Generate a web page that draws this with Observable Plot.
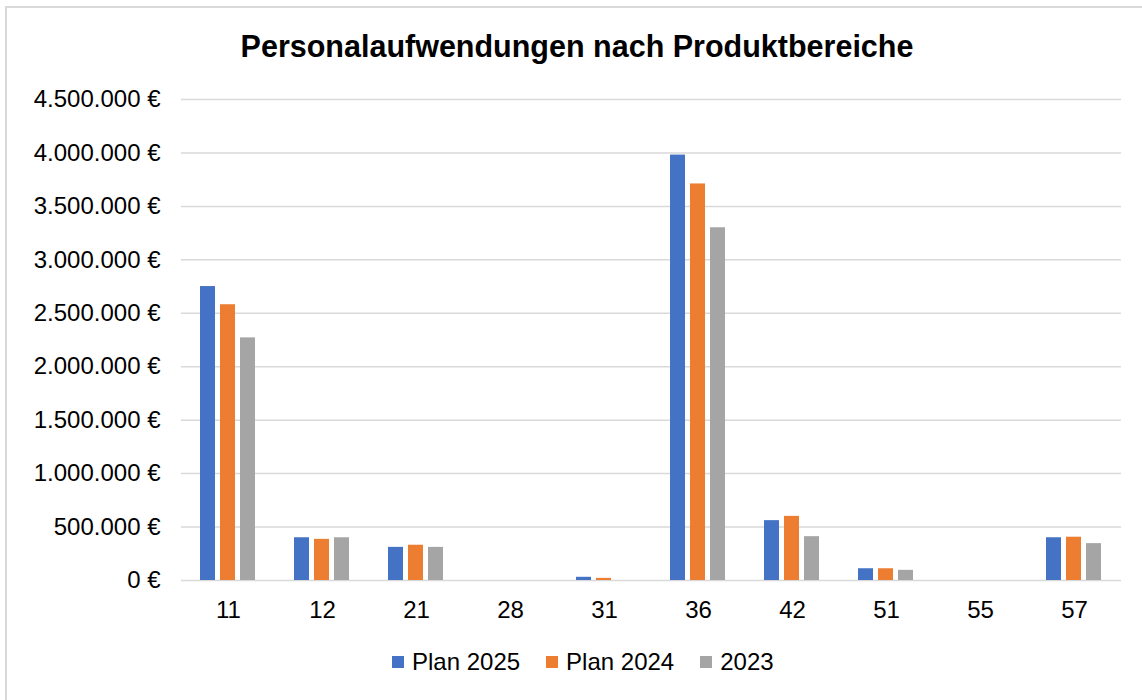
<!DOCTYPE html>
<html><head><meta charset="utf-8">
<script src="https://cdn.jsdelivr.net/npm/d3@7"></script>
<script src="https://cdn.jsdelivr.net/npm/@observablehq/plot@0.6"></script>
<style>
body{margin:0;background:#fff;font-family:"Liberation Sans",Arial,sans-serif;overflow:hidden;}
#frame{position:absolute;left:5px;top:6px;width:1142px;height:700px;border-left:2px solid #d9d9d9;border-top:2px solid #d9d9d9;}
#title{position:absolute;left:6px;top:29px;width:1142px;text-align:center;font-weight:bold;font-size:30.5px;color:#000;}
#chart{position:absolute;left:0;top:80px;}
#legend{position:absolute;top:648px;left:392px;display:flex;align-items:center;font-size:24px;color:#000;}
#legend .item{display:flex;align-items:center;margin-right:26px;}
#legend .sw{width:12px;height:12px;margin-right:8px;}
</style>
</head><body>
<div id="frame"></div>
<div id="title">Personalaufwendungen nach Produktbereiche</div>
<div id="chart"></div>
<div id="legend"></div>
<script>
const categories = ["11","12","21","28","31","36","42","51","55","57"];
const seriesNames = ["Plan 2025","Plan 2024","2023"];
const seriesColors = ["#4472C4","#ED7D31","#A5A5A5"];
const plan2025 = [2750000, 400000, 310000, 0, 30000, 3980000, 560000, 110000, 0, 400000];
const plan2024 = [2580000, 385000, 330000, 0, 20000, 3710000, 600000, 110000, 0, 405000];
const year2023 = [2270000, 400000, 310000, 0, 0, 3300000, 410000, 95000, 0, 345000];
const yTicks = [0, 500000, 1000000, 1500000, 2000000, 2500000, 3000000, 3500000, 4000000, 4500000];

const seriesValues = [plan2025, plan2024, year2023];
const table = [];
categories.forEach((c, i) => {
  seriesNames.forEach((s, j) => table.push({cat: c, series: s, value: seriesValues[j][i]}));
});

const de = d3.formatLocale({decimal: ",", thousands: ".", grouping: [3], currency: ["", " €"]});
const fmt = de.format("$,.0f");

const chart = Plot.plot({
  width: 1142, height: 560,
  marginTop: 19, marginBottom: 60, marginLeft: 179, marginRight: 20,
  style: {fontFamily: '"Liberation Sans", Arial, sans-serif', fontSize: "24px", color: "#000", background: "transparent", overflow: "visible"},
  fx: {domain: categories, padding: 0, label: null, axis: "bottom", tickSize: 0, tickPadding: 20},
  x: {domain: seriesNames, paddingInner: 0.24, paddingOuter: 0.86, axis: null},
  y: {domain: [0, 4500000], ticks: yTicks, tickFormat: fmt, tickSize: 0, tickPadding: 21, label: null},
  color: {domain: seriesNames, range: seriesColors},
  marks: [
    Plot.ruleY(yTicks, {stroke: "#d9d9d9", strokeWidth: 1.5}),
    Plot.barY(table, {fx: "cat", x: "series", y: "value", fill: "series"})
  ]
});
document.getElementById("chart").appendChild(chart);

const legend = document.getElementById("legend");
seriesNames.forEach((s, j) => {
  const it = document.createElement("div"); it.className = "item";
  const sw = document.createElement("div"); sw.className = "sw"; sw.style.background = seriesColors[j];
  const tx = document.createElement("span"); tx.textContent = s;
  it.appendChild(sw); it.appendChild(tx); legend.appendChild(it);
});
</script>
</body></html>
